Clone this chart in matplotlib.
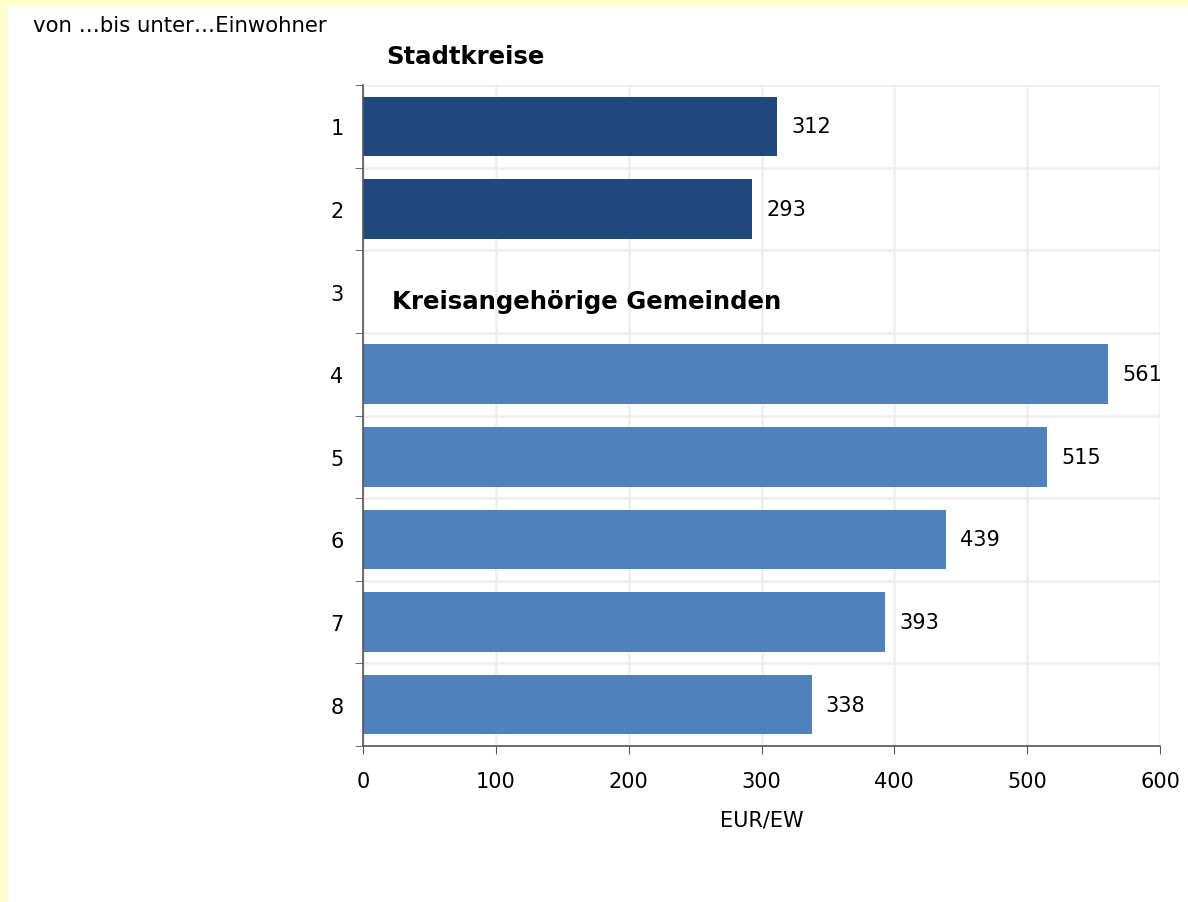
import numpy as np
import matplotlib
matplotlib.use("Agg")
import matplotlib.pyplot as plt
from matplotlib.patches import Rectangle

# Data
categories = ["1", "2", "3", "4", "5", "6", "7", "8"]
stadtkreise = [312, 293, None, None, None, None, None, None]
gemeinden = [None, None, None, 561, 515, 439, 393, 338]

DARK = "#1F497D"
LIGHT = "#4F81BD"
FS = 15

plt.rcParams['font.family'] = ['DejaVu Sans']

fig = plt.figure(figsize=(11.88, 9.03), dpi=100)
fig.patch.set_facecolor("#FFFFCC")
# white panel inside the yellow frame
fig.patches.append(Rectangle((8 / 1188, 0), 1 - 8 / 1188, 1 - 7 / 903,
                             transform=fig.transFigure, facecolor="white",
                             edgecolor="none", zorder=-10))

ax = fig.add_axes([363 / 1188, 1 - 747 / 903, (1160 - 363) / 1188, (747 - 86) / 903])
ax.set_facecolor("none")

y = np.arange(1, len(categories) + 1)
for series, color in [(stadtkreise, DARK), (gemeinden, LIGHT)]:
    idx = [i for i, v in enumerate(series) if v is not None]
    vals = [series[i] for i in idx]
    ax.barh(y[idx], vals, height=0.72, color=color, zorder=3)
    for i, v in zip(idx, vals):
        ax.annotate(f"{v}", xy=(v, y[i]), xytext=(10, 0), textcoords="offset points",
                    ha="left", va="center", fontsize=FS, color="black", zorder=4)

ax.set_xlim(0, 600)
ax.set_ylim(len(categories) + 0.5, 0.5)
ax.set_xticks(np.arange(0, 601, 100))
ax.tick_params(axis="x", labelsize=FS, length=6, color="#555555", pad=12)

# category labels centered, tick marks at band boundaries
ax.set_yticks(y)
ax.set_yticklabels(categories, fontsize=FS)
ax.tick_params(axis="y", which="major", length=0, pad=14)
ax.set_yticks(np.arange(0.5, len(categories) + 1), minor=True)
ax.tick_params(axis="y", which="minor", length=6, color="#555555")

ax.grid(True, axis="x", color="#EEEEEE", linewidth=1.8, zorder=0)
ax.grid(True, axis="y", which="minor", color="#EEEEEE", linewidth=1.8, zorder=0)
ax.set_axisbelow(True)

for s in ["top", "right"]:
    ax.spines[s].set_visible(False)
for s in ["left", "bottom"]:
    ax.spines[s].set_color("#555555")
    ax.spines[s].set_linewidth(1.2)
    ax.spines[s].set_zorder(5)

ax.set_xlabel("EUR/EW", fontsize=FS, labelpad=13)

fig.text(33 / 1188, 1 - 26 / 903, "von …bis unter…Einwohner", fontsize=15.3,
         ha="left", va="center")
fig.text(386 / 1188, 1 - 57 / 903, "Stadtkreise", fontsize=17.6, fontweight="bold",
         ha="left", va="center")
ax.annotate("Kreisangehörige Gemeinden", xy=(0, 3), xytext=(21, -7),
            textcoords="offset points", fontsize=17.6, fontweight="bold",
            ha="left", va="center")

fig.savefig("out.png", dpi=100, facecolor=fig.get_facecolor())
